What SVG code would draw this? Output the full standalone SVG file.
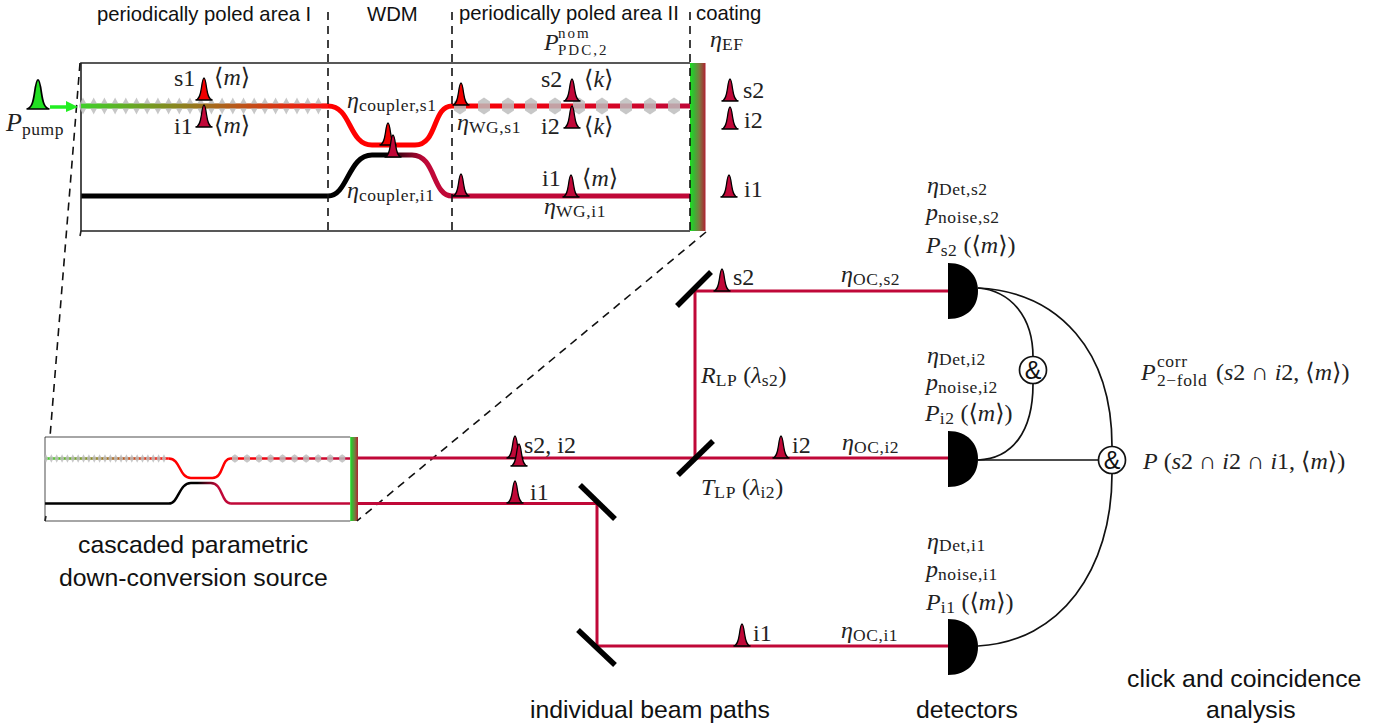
<svg xmlns="http://www.w3.org/2000/svg" xmlns:xlink="http://www.w3.org/1999/xlink" width="1399" height="727" viewBox="0 0 1399 727">
<style>
text{font-family:"Liberation Serif","DejaVu Serif",serif;fill:#222}
.h{font-family:"Liberation Sans",Arial,sans-serif;font-size:20.300px;fill:#111}
.b{font-family:"Liberation Sans",Arial,sans-serif;font-size:24.800px;fill:#111}
.m{font-size:24px}
.t{font-size:24px}
.i{font-style:italic}
.s{font-size:17.500px;letter-spacing:.6px}
.ss{font-size:15px;letter-spacing:2px}
.dash{fill:none;stroke:#111;stroke-width:1.6;stroke-dasharray:8 6}
.box{fill:none;stroke:#222;stroke-width:1.6}
.beam{fill:none;stroke:#c00838;stroke-width:3}
.mir{stroke:#000;stroke-width:5.500;fill:none}
.wire{fill:none;stroke:#111;stroke-width:1.7}
.gate{fill:#fff;stroke:#111;stroke-width:1.7}
.amp{font-family:"Liberation Sans",sans-serif;font-size:25px;text-anchor:middle;fill:#111}
.gray{fill:#bdbdbd}
.red{fill:#f00000}
.cr{fill:#c00838}
.gr{fill:#22e022}
.p{stroke:#000;stroke-width:1.3}
</style>
<defs>
<linearGradient id="g1" gradientUnits="userSpaceOnUse" x1="81" y1="0" x2="328" y2="0"><stop offset="0" stop-color="#3fd02a"/><stop offset="1" stop-color="#ff1010"/></linearGradient>
<linearGradient id="g2" gradientUnits="userSpaceOnUse" x1="452" y1="0" x2="690" y2="0"><stop offset="0" stop-color="#ff0000"/><stop offset="1" stop-color="#c00838"/></linearGradient>
<linearGradient id="g3" gradientUnits="userSpaceOnUse" x1="385" y1="0" x2="425" y2="0"><stop offset="0" stop-color="#000"/><stop offset="1" stop-color="#c00838"/></linearGradient>
<linearGradient id="coat"><stop offset="0" stop-color="#1fe01f"/><stop offset=".2" stop-color="#30c030"/><stop offset=".6" stop-color="#7a7a40"/><stop offset="1" stop-color="#b02030"/></linearGradient>
<path id="pulse" d="M-8.500 0C-4.500-.5-3.500-6-2.600-12C-1.800-18-1-22 0-22C1-22 1.800-18 2.600-12C3.500-6 4.500-.5 8.500 0Z"/>
<path id="det" d="M0-28C20-28 30-15 30 0C30 15 20 28 0 28Z" fill="#000"/>
<g id="chip">
<path d="M81 106H328" fill="none" stroke="url(#g1)" stroke-width="5"/>
<path d="M328 106C352 106 348 145 372 145H415C438 145 432 106 452 106" fill="none" stroke="#ff0000" stroke-width="5"/>
<path d="M452 106H690" fill="none" stroke="url(#g2)" stroke-width="5"/>
<path d="M81 196H328C348 196 348 155 372 155H412C436 155 432 196 452 196" fill="none" stroke="url(#g3)" stroke-width="5"/>
<path d="M452 196H690" fill="none" stroke="#c00838" stroke-width="5"/>
<rect x="690" y="63" width="15.500" height="168" fill="url(#coat)"/>
<path d="M690 63H81V231H690" class="box"/>
</g>
<path id="dia" d="M0-8.500C1.500-5 4-2 4 0C4 2 1.500 5 0 8.500C-1.500 5-4 2-4 0C-4-2-1.500-5 0-8.500Z" class="gray" opacity=".85"/>
<path id="hex" d="M0-8.500L6-4.500V4.500L0 8.500L-6 4.500V-4.500Z" class="gray" opacity=".85"/>
<g id="gratings">
<use xlink:href="#dia" x="83" y="106"/><use xlink:href="#dia" x="93.700" y="106"/><use xlink:href="#dia" x="104.400" y="106"/><use xlink:href="#dia" x="115.100" y="106"/><use xlink:href="#dia" x="125.800" y="106"/><use xlink:href="#dia" x="136.500" y="106"/><use xlink:href="#dia" x="147.200" y="106"/><use xlink:href="#dia" x="157.900" y="106"/><use xlink:href="#dia" x="168.600" y="106"/><use xlink:href="#dia" x="179.300" y="106"/><use xlink:href="#dia" x="190" y="106"/><use xlink:href="#dia" x="200.700" y="106"/><use xlink:href="#dia" x="211.400" y="106"/><use xlink:href="#dia" x="222.100" y="106"/><use xlink:href="#dia" x="232.800" y="106"/><use xlink:href="#dia" x="243.500" y="106"/><use xlink:href="#dia" x="254.200" y="106"/><use xlink:href="#dia" x="264.900" y="106"/><use xlink:href="#dia" x="275.600" y="106"/><use xlink:href="#dia" x="286.300" y="106"/><use xlink:href="#dia" x="297" y="106"/><use xlink:href="#dia" x="307.700" y="106"/><use xlink:href="#dia" x="318.400" y="106"/>
<use xlink:href="#hex" x="460" y="106"/><use xlink:href="#hex" x="484" y="106"/><use xlink:href="#hex" x="508" y="106"/><use xlink:href="#hex" x="531" y="106"/><use xlink:href="#hex" x="555" y="106"/><use xlink:href="#hex" x="579" y="106"/><use xlink:href="#hex" x="602" y="106"/><use xlink:href="#hex" x="626" y="106"/><use xlink:href="#hex" x="650" y="106"/><use xlink:href="#hex" x="674" y="106"/>
</g>
</defs>

<g id="source-detail">
<use xlink:href="#chip"/>
<use xlink:href="#gratings"/>
<path d="M81 106H328" fill="none" stroke="url(#g1)" stroke-width="4.500"/>
</g>

<g id="source-small" transform="translate(45 437) scale(.5012 .5) translate(-81 -63)">
<use xlink:href="#chip"/>
<use xlink:href="#gratings"/>
</g>

<g id="connectors">
<path class="dash" d="M328 12V231M452 12V231M690 12V231"/>
<path class="dash" d="M80 63L50 437"/>
<path class="dash" d="M706 232L357 521"/>
<path class="box" d="M45 521L46 516M80 236L81 231"/>
<path class="beam" d="M358 458H948"/>
<path class="beam" d="M358 503.500H597V646H948"/>
<path class="beam" d="M695 458V291H948"/>
<path class="wire" d="M978 288C1012 291 1033 318 1033 357"/>
<path class="wire" d="M1033 384C1033 432 1012 459 978 460"/>
<path class="wire" d="M978 288C1060 292 1112 352 1112 446"/>
<path class="wire" d="M978 460H1098"/>
<path class="wire" d="M1112 474C1112 570 1060 642 978 646"/>
<path d="M50 107H70" stroke="#22ee22" stroke-width="3.500" fill="none"/>
<path d="M66 101L78 107L66 112Z" fill="#22ee22"/>
</g>

<g id="pulses">
<use xlink:href="#pulse" transform="translate(38 109) scale(1.350 1.320)" class="gr p"/>
<use xlink:href="#pulse" x="204" y="100" class="red p"/>
<use xlink:href="#pulse" x="204" y="127" class="cr p"/>
<use xlink:href="#pulse" x="388" y="145" class="red p"/>
<use xlink:href="#pulse" x="393" y="157" class="cr p"/>
<use xlink:href="#pulse" x="461" y="105" class="red p"/>
<use xlink:href="#pulse" x="461" y="196" class="cr p"/>
<use xlink:href="#pulse" x="572" y="101" class="cr p"/>
<use xlink:href="#pulse" x="572" y="128" class="cr p"/>
<use xlink:href="#pulse" x="571" y="197" class="cr p"/>
<use xlink:href="#pulse" x="730" y="101" class="cr p"/>
<use xlink:href="#pulse" x="730" y="129" class="cr p"/>
<use xlink:href="#pulse" x="729" y="197" class="cr p"/>
<use xlink:href="#pulse" x="515" y="458" class="cr p"/>
<use xlink:href="#pulse" x="519" y="466" class="cr p"/>
<use xlink:href="#pulse" x="515" y="503" class="cr p"/>
<use xlink:href="#pulse" x="722" y="291" class="cr p"/>
<use xlink:href="#pulse" x="781" y="458" class="cr p"/>
<use xlink:href="#pulse" x="742" y="646" class="cr p"/>
</g>

<g id="mirror-1"><path class="mir" d="M677 306L711 272"/></g>
<g id="mirror-2"><path class="mir" d="M678 475L713 441"/></g>
<g id="mirror-3"><path class="mir" d="M580 485L615 519"/></g>
<g id="mirror-4"><path class="mir" d="M578 630L615 665"/></g>

<g id="detector-s2"><use xlink:href="#det" x="948" y="291"/></g>
<g id="detector-i2"><use xlink:href="#det" x="948" y="459"/></g>
<g id="detector-i1"><use xlink:href="#det" x="948" y="647"/></g>

<g id="gate-2fold"><circle class="gate" cx="1033" cy="370" r="13.500"/><text class="amp" x="1033" y="379">&amp;</text></g>
<g id="gate-3fold"><circle class="gate" cx="1112" cy="460" r="13.500"/><text class="amp" x="1112" y="469">&amp;</text></g>

<g id="labels">
<text class="h" x="97" y="21">periodically poled area I</text>
<text class="h" x="367" y="21">WDM</text>
<text class="h" x="459" y="20">periodically poled area II</text>
<text class="h" x="696" y="20">coating</text>
<text class="b" x="78" y="553">cascaded parametric</text>
<text class="b" x="59" y="586">down-conversion source</text>
<text class="b" x="530" y="718">individual beam paths</text>
<text class="b" x="916" y="718">detectors</text>
<text class="b" x="1127" y="687">click and coincidence</text>
<text class="b" x="1206" y="718">analysis</text>

<text class="m" x="6" y="131"><tspan class="i" font-size="26">P</tspan><tspan class="s" font-size="20" dy="4">pump</tspan></text>
<text class="t" x="174" y="86">s1</text><text class="t" x="214" y="85">⟨<tspan class="i">m</tspan>⟩</text>
<text class="t" x="174" y="134">i1</text><text class="t" x="214" y="133">⟨<tspan class="i">m</tspan>⟩</text>
<text class="m" x="347" y="108"><tspan class="i">η</tspan><tspan class="s" dy="3">coupler,s1</tspan></text>
<text class="m" x="347" y="198"><tspan class="i">η</tspan><tspan class="s" dy="3">coupler,i1</tspan></text>
<text class="m" x="457" y="130"><tspan class="i">η</tspan><tspan class="s" dy="3">WG,s1</tspan></text>
<text class="m" x="544" y="214"><tspan class="i">η</tspan><tspan class="s" dy="3">WG,i1</tspan></text>
<text class="m" x="544" y="50"><tspan class="i">P</tspan></text>
<text class="ss" x="558" y="38">nom</text>
<text class="ss" x="558" y="55">PDC,2</text>
<text class="m" x="710" y="47"><tspan class="i">η</tspan><tspan class="s" dy="3">EF</tspan></text>
<text class="t" x="541" y="87">s2</text><text class="t" x="584" y="87">⟨<tspan class="i">k</tspan>⟩</text>
<text class="t" x="541" y="134">i2</text><text class="t" x="584" y="134">⟨<tspan class="i">k</tspan>⟩</text>
<text class="t" x="542" y="186">i1</text><text class="t" x="582" y="186">⟨<tspan class="i">m</tspan>⟩</text>
<text class="t" x="743" y="98">s2</text>
<text class="t" x="744" y="128">i2</text>
<text class="t" x="744" y="197">i1</text>

<text class="t" x="524" y="453">s2, i2</text>
<text class="t" x="530" y="500">i1</text>
<text class="t" x="733" y="285">s2</text>
<text class="t" x="792" y="453">i2</text>
<text class="t" x="753" y="641">i1</text>
<text class="m" x="841" y="282"><tspan class="i">η</tspan><tspan class="s" dy="3">OC,s2</tspan></text>
<text class="m" x="842" y="450"><tspan class="i">η</tspan><tspan class="s" dy="3">OC,i2</tspan></text>
<text class="m" x="841" y="638"><tspan class="i">η</tspan><tspan class="s" dy="3">OC,i1</tspan></text>
<text class="m" x="701" y="383"><tspan class="i">R</tspan><tspan class="s" dy="3">LP</tspan><tspan dy="-3"> (</tspan><tspan class="i">λ</tspan><tspan class="s" dy="3">s2</tspan><tspan dy="-3">)</tspan></text>
<text class="m" x="701" y="495"><tspan class="i">T</tspan><tspan class="s" dy="3">LP</tspan><tspan dy="-3"> (</tspan><tspan class="i">λ</tspan><tspan class="s" dy="3">i2</tspan><tspan dy="-3">)</tspan></text>

<text class="m" x="927" y="193"><tspan class="i">η</tspan><tspan class="s" dy="2">Det,s2</tspan></text>
<text class="m" x="926" y="220"><tspan class="i">p</tspan><tspan class="s" dy="3">noise,s2</tspan></text>
<text class="m" x="926" y="253"><tspan class="i">P</tspan><tspan class="s" dy="3">s2</tspan><tspan dy="-3"> (⟨</tspan><tspan class="i">m</tspan><tspan>⟩)</tspan></text>
<text class="m" x="927" y="363"><tspan class="i">η</tspan><tspan class="s" dy="2">Det,i2</tspan></text>
<text class="m" x="926" y="390"><tspan class="i">p</tspan><tspan class="s" dy="3">noise,i2</tspan></text>
<text class="m" x="925" y="421"><tspan class="i">P</tspan><tspan class="s" dy="3">i2</tspan><tspan dy="-3"> (⟨</tspan><tspan class="i">m</tspan><tspan>⟩)</tspan></text>
<text class="m" x="927" y="549"><tspan class="i">η</tspan><tspan class="s" dy="2">Det,i1</tspan></text>
<text class="m" x="926" y="577"><tspan class="i">p</tspan><tspan class="s" dy="3">noise,i1</tspan></text>
<text class="m" x="926" y="610"><tspan class="i">P</tspan><tspan class="s" dy="3">i1</tspan><tspan dy="-3"> (⟨</tspan><tspan class="i">m</tspan><tspan>⟩)</tspan></text>

<text class="m" x="1141" y="380"><tspan class="i">P</tspan></text>
<text class="s" x="1157" y="367">corr</text>
<text class="s" x="1157" y="386">2−fold</text>
<text class="m" x="1216" y="380">(<tspan class="i">s</tspan>2 ∩ <tspan class="i">i</tspan>2, ⟨<tspan class="i">m</tspan>⟩)</text>
<text class="m" x="1143" y="469"><tspan class="i">P</tspan> (<tspan class="i">s</tspan>2 ∩ <tspan class="i">i</tspan>2 ∩ <tspan class="i">i</tspan>1, ⟨<tspan class="i">m</tspan>⟩)</text>
</g>
</svg>
